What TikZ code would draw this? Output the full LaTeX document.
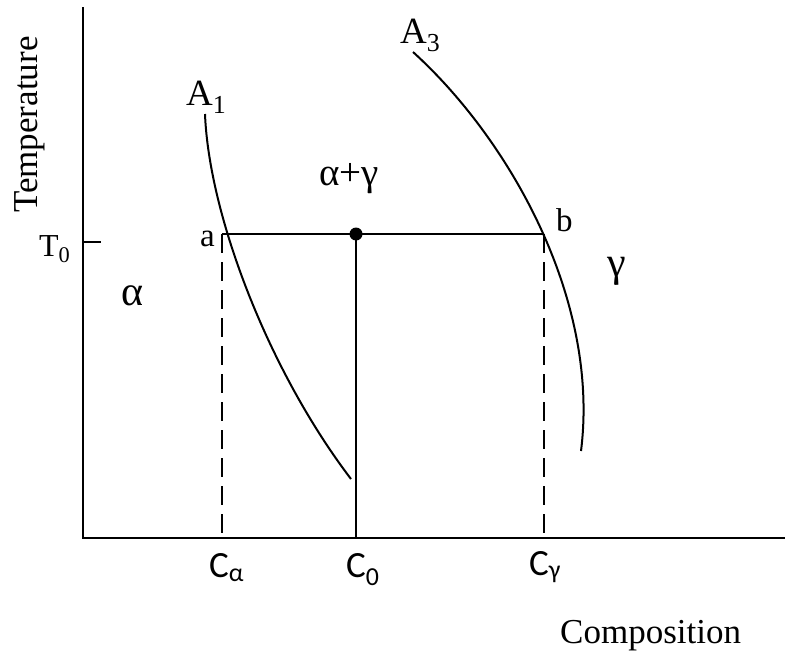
\documentclass[tikz,border=0pt]{standalone}
\usepackage{fontspec}
\setmainfont{Liberation Serif}
\newfontfamily\carl{Carlito}
\begin{document}
\begin{tikzpicture}[x=1pt,y=-1pt,
  axis/.style={line width=2.6pt},
  curve/.style={line width=2pt},
  tie/.style={line width=2pt},
  guide/.style={line width=2pt, dash pattern=on 19pt off 9pt},
  lbl/.style={inner sep=0pt, anchor=base west},
  sz/.style={font=\fontsize{#1}{#1}\selectfont}]
\useasboundingbox (0,0) rectangle (785,653);
% axes
\coordinate (top) at (83,7);
\coordinate (origin) at (83,538);
\coordinate (xend) at (785,538);
\draw[axis] (top) -- (origin) -- (xend);
\coordinate (t0a) at (83,242);
\coordinate (t0b) at (101,242);
\draw[axis] (t0a) -- (t0b);
% key points
\coordinate (a) at (222,234);
\coordinate (b) at (544,234);
\coordinate (c0) at (356,234);
\coordinate (ca) at (222,538);
\coordinate (cg) at (544,538);
\coordinate (c0b) at (356,538);
% curves
\coordinate (a1s) at (205,114);
\coordinate (a1e) at (351,479);
\draw[curve] (a1s) .. controls (209,215) and (268,370) .. (a1e);
\coordinate (a3s) at (413,52);
\coordinate (a3e) at (581,451);
\draw[curve] (a3s) .. controls (510,140) and (600,300) .. (a3e);
% tie line
\draw[tie] (a) -- (b);
\draw[tie] (c0) -- (c0b);
\draw[guide] (a) -- (ca);
\draw[guide] (b) -- (cg);
\fill (c0) circle (6.5pt);
% labels
\node[lbl, sz=35, rotate=90] (temp) at (37,213) {Temperature};
\node[lbl, sz=35] (comp) at (560,643) {Composition};
\node[lbl, sz=32] (t0) at (39,256) {T\textsubscript{0}};
\node[lbl, sz=37] (la1) at (186,105) {A\textsubscript{1}};
\node[lbl, sz=37] (la3) at (400,43) {A\textsubscript{3}};
\node[lbl, sz=33] (la) at (200,246) {a};
\node[lbl, sz=33] (lb) at (556,231) {b};
\node[lbl, sz=39] (lag) at (319,185) {α+γ};
\node[lbl, sz=42] (lal) at (121,305) {α};
\node[lbl, sz=42] (lga) at (607,276) {γ};
\node[lbl, sz=37] (lca) at (209,577) {\carl C\textsubscript{α}};
\node[lbl, sz=37] (lc0) at (346,577) {\carl C\textsubscript{0}};
\node[lbl, sz=37] (lcg) at (529,575) {\carl C\textsubscript{γ}};
\end{tikzpicture}
\end{document}
